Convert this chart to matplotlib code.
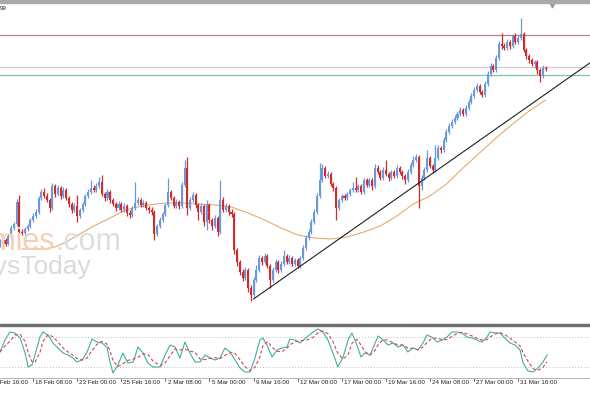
import numpy as np
import pandas as pd
import matplotlib
matplotlib.use("Agg")
import matplotlib.pyplot as plt
from matplotlib.patches import Rectangle
from matplotlib.transforms import blended_transform_factory

# H4 candles, price in points; each bar opens at the previous close
first_open = 85
close = [88, 90, 86, 94, 102, 106, 128, 98, 97, 101,
         104, 110, 114, 118, 132, 138, 134, 130, 122, 144,
         136, 142, 134, 140, 132, 126, 120, 124, 114, 120,
         126, 134, 138, 142, 140, 144, 148, 136, 132, 138,
         130, 126, 122, 126, 120, 124, 117, 115, 122, 127,
         130, 125, 127, 122, 120, 118, 96, 104, 110, 116,
         125, 138, 132, 124, 128, 124, 145, 162, 122, 130,
         135, 125, 118, 124, 108, 125, 110, 104, 112, 98,
         130, 120, 124, 118, 116, 80, 68, 58, 52, 60,
         42, 35, 50, 60, 72, 68, 74, 64, 50, 60,
         68, 60, 66, 74, 68, 72, 66, 70, 64, 72,
         82, 92, 98, 108, 118, 134, 150, 162, 154, 156,
         146, 142, 122, 130, 134, 132, 136, 140, 142, 140,
         144, 138, 150, 145, 150, 144, 162, 158, 152, 160,
         156, 152, 158, 154, 162, 158, 154, 150, 158, 165,
         170, 173, 144, 152, 160, 172, 164, 160, 172, 182,
         180, 190, 198, 204, 208, 212, 216, 220, 216, 222,
         228, 234, 240, 244, 238, 235, 246, 256, 264, 260,
         272, 286, 284, 282, 288, 284, 294, 288, 292, 296,
         280, 274, 270, 266, 268, 260, 254, 262, 261]
high = [91, 93, 92, 96, 105, 108, 131, 135, 101, 103,
        106, 112, 117, 121, 134, 141, 142, 137, 132, 147,
        146, 145, 144, 143, 142, 134, 128, 127, 135, 122,
        128, 136, 141, 150, 145, 147, 153, 155, 138, 141,
        140, 132, 128, 129, 128, 127, 126, 120, 124, 148,
        133, 132, 130, 129, 124, 123, 120, 106, 113, 118,
        127, 152, 140, 134, 131, 130, 148, 170, 173, 133,
        138, 137, 127, 127, 126, 130, 127, 112, 115, 114,
        150, 133, 127, 126, 121, 118, 82, 70, 61, 63,
        62, 45, 53, 65, 75, 74, 77, 76, 66, 63,
        71, 70, 69, 80, 76, 75, 74, 72, 72, 74,
        85, 95, 101, 111, 121, 137, 167, 166, 164, 159,
        158, 148, 144, 132, 136, 136, 138, 142, 148, 153,
        146, 146, 152, 152, 152, 152, 166, 165, 160, 163,
        170, 158, 160, 160, 165, 164, 160, 156, 161, 168,
        174, 176, 175, 155, 163, 180, 174, 166, 185, 185,
        184, 193, 201, 207, 211, 215, 219, 223, 222, 225,
        231, 237, 243, 247, 246, 240, 249, 259, 267, 266,
        275, 289, 297, 287, 291, 290, 296, 297, 295, 312,
        298, 282, 276, 272, 270, 270, 262, 265, 264]
low = [83, 86, 84, 85, 92, 100, 104, 96, 95, 95,
       99, 102, 108, 112, 116, 130, 132, 128, 118, 120,
       133, 134, 131, 132, 130, 123, 117, 118, 108, 112,
       118, 124, 132, 136, 138, 138, 142, 134, 129, 130,
       127, 124, 119, 120, 118, 118, 114, 112, 113, 120,
       125, 123, 123, 120, 117, 115, 90, 94, 102, 108,
       114, 123, 130, 122, 122, 121, 122, 143, 115, 120,
       128, 122, 110, 116, 104, 100, 107, 100, 102, 94,
       96, 118, 118, 115, 113, 76, 64, 55, 49, 50,
       38, 29, 33, 48, 58, 65, 66, 62, 42, 48,
       58, 57, 58, 64, 66, 66, 64, 64, 62, 62,
       70, 80, 90, 96, 106, 116, 132, 148, 152, 152,
       144, 139, 110, 120, 128, 130, 130, 134, 138, 138,
       138, 136, 136, 143, 143, 140, 142, 156, 150, 150,
       154, 149, 150, 152, 152, 156, 151, 146, 148, 156,
       163, 168, 122, 140, 150, 158, 162, 157, 158, 170,
       177, 178, 188, 196, 202, 206, 210, 214, 214, 214,
       220, 226, 232, 238, 236, 233, 233, 244, 254, 258,
       258, 270, 281, 280, 280, 281, 282, 286, 286, 290,
       278, 271, 267, 264, 262, 256, 248, 252, 259]

# moving average, read at every 6th bar
ma_idx = [8, 12, 16, 20, 24, 29, 34, 40, 44, 48, 54, 60, 66, 72, 78, 84, 90,
          96, 102, 108, 114, 120, 126, 132, 138, 144, 150, 156, 162, 168,
          174, 180, 186, 192, 198]
ma_val = [81, 81, 81, 83, 88, 96, 104, 112, 118, 122, 125, 127, 127, 126,
          125, 123, 117, 110, 102, 95, 92, 91, 93, 98, 104, 114, 126, 134,
          146, 162, 177, 192, 206, 219, 230]

# stochastic %K
stoch_idx = [0, 1.8, 3.6, 5.4, 7.3, 9.1, 10.2, 11.6, 12.7, 14.5,
             15.6, 17.4, 19.2, 21.0, 22.9, 24.7, 26.5, 27.9, 29.8, 31.6,
             33.4, 35.2, 37.0, 38.8, 39.9, 41.0, 42.8, 44.6, 46.4, 48.3,
             50.1, 51.9, 53.7, 55.5, 58.1, 59.9, 61.7, 63.5, 65.3, 67.1,
             68.9, 70.8, 72.6, 74.4, 76.2, 78.0, 79.8, 81.6, 83.5, 85.3,
             87.1, 88.9, 90.7, 92.5, 94.3, 95.4, 97.2, 98.7, 100.5, 102.3,
             104.1, 105.2, 107.0, 108.9, 111.4, 113.6, 115.4, 117.2, 119.0, 120.8,
             122.6, 124.5, 126.3, 127.7, 129.5, 131.0, 132.4, 134.3, 136.1, 137.2,
             139.0, 140.8, 142.6, 144.4, 146.2, 148.0, 149.9, 151.7, 153.5, 154.9,
             156.7, 158.6, 160.4, 162.2, 164.0, 165.8, 167.6, 169.4, 171.3, 173.1,
             174.9, 176.7, 177.8, 179.6, 181.4, 183.2, 185.0, 186.9, 188.7, 189.8,
             191.6, 193.4, 195.2, 197.0, 198.5]
stoch_k = [50, 74, 90, 88, 78, 48, 20, 24, 44, 80,
           90, 84, 68, 58, 48, 44, 38, 30, 34, 50,
           76, 70, 68, 60, 30, 8, 24, 48, 28, 30,
           60, 48, 28, 20, 20, 44, 64, 60, 38, 70,
           48, 30, 30, 44, 38, 34, 38, 58, 50, 34,
           18, 10, 10, 38, 74, 78, 60, 40, 54, 58,
           60, 76, 74, 68, 80, 90, 96, 90, 74, 48,
           20, 40, 74, 88, 64, 40, 48, 44, 68, 82,
           74, 64, 68, 60, 64, 50, 58, 54, 68, 84,
           80, 70, 74, 80, 90, 90, 88, 80, 78, 74,
           70, 80, 90, 88, 88, 78, 68, 64, 54, 28,
           12, 10, 18, 30, 44]

date_idx = [-4, 12, 28, 44, 60, 76, 92, 108, 124, 140, 156, 172, 188]
date_labels = ["13 Feb 16:00", "18 Feb 08:00", "23 Feb 00:00", "25 Feb 16:00",
               "2 Mar 08:00", "5 Mar 00:00", "9 Mar 16:00", "12 Mar 08:00",
               "17 Mar 00:00", "19 Mar 16:00", "24 Mar 08:00", "27 Mar 00:00",
               "31 Mar 16:00"]

resistance = 295
mid_level = 263
support = 255
trend_idx = [92, 214]
trend_val = [31, 267]

W, H = 590, 393
fig = plt.figure(figsize=(W / 100, H / 100), dpi=100, facecolor="white")


def add_panel(top, bottom):
    a = fig.add_axes([0, 1 - bottom / H, 1, (bottom - top) / H])
    for s in a.spines.values():
        s.set_visible(False)
    a.set_xticks([])
    a.set_yticks([])
    a.set_xlim(0, W / 2.756)
    return a


ax = add_panel(3, 322)
ax2 = add_panel(326, 378)
ax.set_ylim(8, 327)
ax2.set_ylim(-2, 102)

bull, bear = "#6a98de", "#d42a2a"
c = np.array(close, dtype=float)
o = np.r_[first_open, c[:-1]]
idx = np.arange(len(c))
cols = np.where(c >= o, bull, bear)
ax.vlines(idx, low, high, colors=cols, lw=0.9, zorder=3)
ax.bar(idx, np.maximum(np.abs(c - o), 0.9), bottom=np.minimum(o, c),
       width=0.74, color=cols, linewidth=0, zorder=3)

ax.plot(ma_idx, ma_val, color="#e2ad6c", lw=0.8, zorder=2)
ax.axhline(resistance, color="#c27c8a", lw=0.9, zorder=1)
ax.axhline(mid_level, color="#d6c8d0", lw=0.9, zorder=1)
ax.axhline(support, color="#7fc2ae", lw=0.9, zorder=1)
ax.plot(trend_idx, trend_val, color="#202020", lw=0.8, zorder=4)

# watermark
fig.text(55 / W, 1 - 250 / H, "Economies", color="#f7cdb6", fontsize=22,
         family="Liberation Sans", ha="right", va="baseline", zorder=0)
fig.text(55 / W, 1 - 250 / H, ".com", color="#dedede", fontsize=22,
         family="Liberation Sans", ha="left", va="baseline", zorder=0)
fig.text(92 / W, 1 - 274 / H, "DaysToday", color="#dadada", fontsize=19,
         family="Liberation Sans", ha="right", va="baseline", zorder=0)

# stochastic panel
ax2.axhline(80, color="#bdbdbd", lw=0.7, ls=(0, (1, 2)))
ax2.axhline(20, color="#bdbdbd", lw=0.7, ls=(0, (1, 2)))
stoch_d = pd.Series(stoch_k).rolling(3, min_periods=1).mean()
ax2.plot(stoch_idx, stoch_k, color="#3fb0a0", lw=0.8)
ax2.plot(stoch_idx, stoch_d, color="#d84848", lw=0.8, ls=(0, (3, 2)))
ax2.spines["bottom"].set_visible(True)
ax2.spines["bottom"].set_color("#a8a8a8")
ax2.spines["bottom"].set_linewidth(0.6)

tr = blended_transform_factory(ax2.transData, ax2.transAxes)
for d, lab in zip(date_idx, date_labels):
    ax2.plot([d, d], [0, -3 / 52], color="#555555", lw=0.6,
             transform=tr, clip_on=False)
    ax2.text(d + 0.8, -5 / 52, lab, transform=tr, fontsize=4.5,
             family="Liberation Sans", color="#202020", ha="left", va="center")

# frame pieces
fig.patches.append(Rectangle((0, 1 - 3 / H), 1, 3 / H, transform=fig.transFigure,
                             color="#a9a9a9", zorder=5))
fig.patches.append(Rectangle((0, 1 - 325.5 / H), 1, 2 / H, transform=fig.transFigure,
                             color="#6e6e6e", zorder=5))
fig.text(0, 1 - 8 / H, "99", fontsize=4.5, family="Liberation Sans",
         color="#202020", ha="left", va="center")
ax.plot([552 / 2.756], [325], marker="v", ms=3.5, color="#9a9a9a",
        clip_on=False, zorder=6)

fig.savefig("out.png", dpi=100, facecolor="white")
